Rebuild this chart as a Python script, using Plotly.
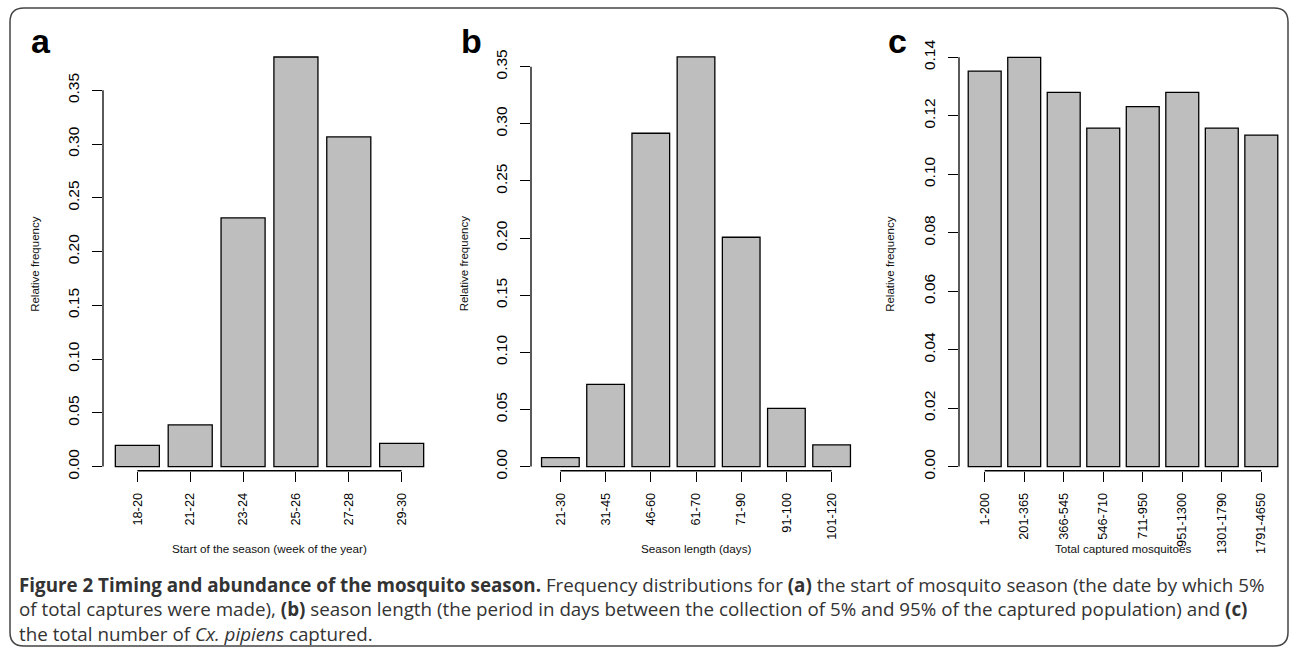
import plotly.graph_objects as go

W, H = 1290, 657

# panel a: start of the season
start_weeks = ["18-20", "21-22", "23-24", "25-26", "27-28", "29-30"]
start_freq = [0.0198, 0.0388, 0.2313, 0.3810, 0.3066, 0.0217]

# panel b: season length
length_days = ["21-30", "31-45", "46-60", "61-70", "71-90", "91-100", "101-120"]
length_freq = [0.0079, 0.0720, 0.2917, 0.3585, 0.2007, 0.0510, 0.0190]

# panel c: total captured
captured = ["1-200", "201-365", "366-545", "546-710", "711-950",
            "951-1300", "1301-1790", "1791-4650"]
captured_freq = [0.1353, 0.1400, 0.1280, 0.1158, 0.1231, 0.1280, 0.1158, 0.1134]

ticks_ab = [0.00, 0.05, 0.10, 0.15, 0.20, 0.25, 0.30, 0.35]
ticks_c = [0.00, 0.02, 0.04, 0.06, 0.08, 0.10, 0.12, 0.14]

FONT = "Liberation Sans, Arial, sans-serif"
CAP_FONT = "Open Sans, sans-serif"


def px(x):
    return x / W


def py(y):
    return 1 - y / H


panels = [
    dict(cats=start_weeks, vals=start_freq, ticks=ticks_ab,
         xtitle="Start of the season (week of the year)", letter="a",
         left=103, right=436, yrange=[-0.00385, 0.3973],
         letter_x=41, ytitle_x=35.5),
    dict(cats=length_days, vals=length_freq, ticks=ticks_ab,
         xtitle="Season length (days)", letter="b",
         left=531, right=861, yrange=[-0.00363, 0.3738],
         letter_x=471, ytitle_x=464),
    dict(cats=captured, vals=captured_freq, ticks=ticks_c,
         xtitle="Total captured mosquitoes", letter="c",
         left=959, right=1287, yrange=[-0.00142, 0.1461],
         letter_x=898, ytitle_x=890.5),
]

fig = go.Figure()
annotations = []
shapes = []
plot_top, plot_bottom = 40, 477.3

for i, p in enumerate(panels):
    n = str(i + 1) if i else ""
    xa, ya = "x" + n, "y" + n
    fig.add_trace(go.Bar(
        x=p["cats"], y=p["vals"], xaxis=xa, yaxis=ya,
        marker=dict(color="#bebebe", line=dict(color="black", width=1.3)),
        showlegend=False, hoverinfo="x+y",
    ))
    fig.update_layout(**{
        "xaxis" + n: dict(
            domain=[px(p["left"]), px(p["right"])], anchor=ya,
            type="category", range=[-0.65, len(p["cats"]) - 0.35],
            showline=False, showgrid=False, zeroline=False,
            ticks="outside", ticklen=10, tickwidth=1.3, tickcolor="black",
            tickangle=-90, ticklabelstandoff=6,
            tickfont=dict(family=FONT, size=12.8, color="black"),
        ),
        "yaxis" + n: dict(
            domain=[py(plot_bottom), py(plot_top)], anchor=xa,
            range=p["yrange"], showline=False, showgrid=False, zeroline=False,
            tickvals=p["ticks"], ticktext=["%.2f" % t for t in p["ticks"]],
            ticks="outside", ticklen=10, tickwidth=1.3, tickcolor="black",
            tickangle=-90, ticklabelstandoff=7,
            tickfont=dict(family=FONT, size=15.5, color="black"),
        ),
    })
    # R style axis lines, from first to last tick only
    shapes.append(dict(type="line", xref=xa + " domain", yref=ya,
                       x0=0, x1=0, y0=p["ticks"][0], y1=p["ticks"][-1],
                       line=dict(color="black", width=1.3)))
    shapes.append(dict(type="line", xref=xa, yref=ya + " domain",
                       x0=0, x1=len(p["cats"]) - 1, y0=0, y1=0,
                       line=dict(color="black", width=1.3)))
    annotations.append(dict(
        text=p["xtitle"], xref="paper", yref="paper",
        x=px((p["left"] + p["right"]) / 2), y=py(556),
        xanchor="center", yanchor="middle", showarrow=False,
        font=dict(family=FONT, size=11.7, color="#111"),
    ))
    annotations.append(dict(
        text="Relative frequency", xref="paper", yref="paper",
        x=px(p["ytitle_x"]), y=py(268), textangle=-90,
        xanchor="center", yanchor="middle", showarrow=False,
        font=dict(family=FONT, size=11.5, color="#111"),
    ))
    annotations.append(dict(
        text="<b>%s</b>" % p["letter"], xref="paper", yref="paper",
        x=px(p["letter_x"]), y=py(42),
        xanchor="center", yanchor="middle", showarrow=False,
        font=dict(family=FONT, size=34, color="black"),
    ))

caption = "<br>".join([
    "<b>Figure 2 Timing and abundance of the mosquito season.</b> "
    "Frequency distributions for <b>(a)</b> the start of mosquito season "
    "(the date by which 5%",
    "of total captures were made), <b>(b)</b> season length (the period in "
    "days between the collection of 5% and 95% of the captured population) "
    "and <b>(c)</b>",
    "the total number of <i>Cx. pipiens</i> captured.",
])
annotations.append(dict(
    text=caption, xref="paper", yref="paper", x=px(17), y=py(618),
    xanchor="left", yanchor="middle", showarrow=False, align="left",
    font=dict(family=CAP_FONT, size=18.8, color="#333"),
))

# rounded frame round the whole figure
x0, x1, y0, y1 = px(10), px(1288), py(655), py(8)
rx, ry = 14 / W, 14 / H
frame = (f"M {x0 + rx},{y1} L {x1 - rx},{y1} Q {x1},{y1} {x1},{y1 - ry} "
         f"L {x1},{y0 + ry} Q {x1},{y0} {x1 - rx},{y0} "
         f"L {x0 + rx},{y0} Q {x0},{y0} {x0},{y0 + ry} "
         f"L {x0},{y1 - ry} Q {x0},{y1} {x0 + rx},{y1} Z")
shapes.append(dict(type="path", xref="paper", yref="paper", path=frame,
                   line=dict(color="#444", width=1.5)))

fig.update_layout(
    width=W, height=H, margin=dict(l=0, r=0, t=0, b=0),
    paper_bgcolor="white", plot_bgcolor="white",
    bargap=1 - 1 / 1.2,
    annotations=annotations, shapes=shapes,
)

# drop the browser's default page margin so the figure sits at 0,0
fig.write_html("out.html", config={"displayModeBar": False},
               post_script="document.body.style.margin='0';")
